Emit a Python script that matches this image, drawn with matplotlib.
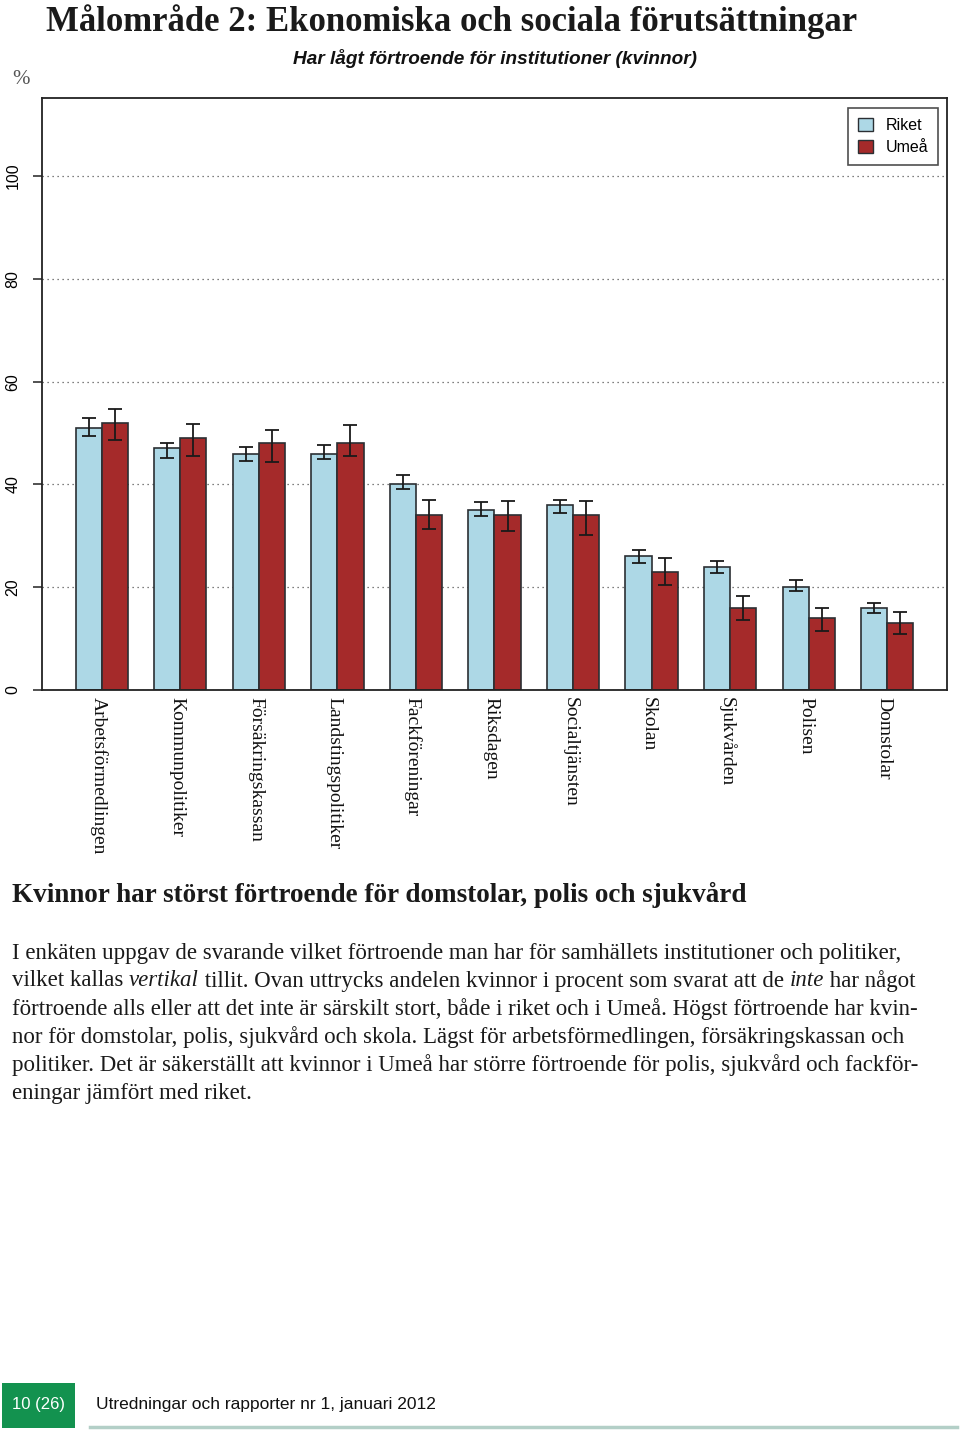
import matplotlib
matplotlib.use("Agg")
import matplotlib.pyplot as plt
from matplotlib.patches import Patch
import numpy as np

W, H = 960, 1432

categories = ["Arbetsförmedlingen", "Kommunpolitiker", "Försäkringskassan",
              "Landstingspolitiker", "Fackföreningar", "Riksdagen",
              "Socialtjänsten", "Skolan", "Sjukvården", "Polisen", "Domstolar"]
series = ["Riket", "Umeå"]

riket = [51, 47, 46, 46, 40, 35, 36, 26, 24, 20, 16]
riket_lo = [49.4, 45.2, 44.6, 44.9, 39.1, 33.9, 34.4, 24.8, 22.8, 19.2, 14.9]
riket_hi = [52.9, 48.1, 47.3, 47.7, 41.8, 36.5, 37.0, 27.3, 25.2, 21.4, 17.0]

umea = [52, 49, 48, 48, 34, 34, 34, 23, 16, 14, 13]
umea_lo = [48.6, 45.6, 44.4, 45.5, 31.3, 31.0, 30.1, 20.4, 13.6, 11.5, 10.9]
umea_hi = [54.7, 51.8, 50.6, 51.6, 37.0, 36.8, 36.8, 25.6, 18.2, 16.0, 15.2]

yticks = [0, 20, 40, 60, 80, 100]

title = "Målområde 2: Ekonomiska och sociala förutsättningar"
subtitle = "Har lågt förtroende för institutioner (kvinnor)"
heading = "Kvinnor har störst förtroende för domstolar, polis och sjukvård"
body = [
    [("I enkäten uppgav de svarande vilket förtroende man har för samhällets institutioner och politiker,", "normal")],
    [("vilket kallas ", "normal"), ("vertikal", "italic"), (" tillit. Ovan uttrycks andelen kvinnor i procent som svarat att de ", "normal"),
     ("inte", "italic"), (" har något", "normal")],
    [("förtroende alls eller att det inte är särskilt stort, både i riket och i Umeå. Högst förtroende har kvin-", "normal")],
    [("nor för domstolar, polis, sjukvård och skola. Lägst för arbetsförmedlingen, försäkringskassan och", "normal")],
    [("politiker. Det är säkerställt att kvinnor i Umeå har större förtroende för polis, sjukvård och fackför-", "normal")],
    [("eningar jämfört med riket.", "normal")],
]
footer_page = "10 (26)"
footer_text = "Utredningar och rapporter nr 1, januari 2012"

col_riket = "#add8e6"
col_umea = "#a52a2a"
edge = "#2b2f33"

fig = plt.figure(figsize=(W / 100, H / 100), dpi=100)

# plot region in pixels
left, right, top, bottom = 42, 947, 98, 690
ax = fig.add_axes([left / W, 1 - bottom / H, (right - left) / W, (bottom - top) / H])

n = len(categories)
x_r = 1 + 3 * np.arange(n)
x_u = x_r + 1

ax.yaxis.grid(True, linestyle=(0, (1, 3)), color="#555555", linewidth=0.9)
ax.set_axisbelow(True)

ax.bar(x_r, riket, width=1, align="edge", color=col_riket, edgecolor=edge, linewidth=1.2, zorder=2)
ax.bar(x_u, umea, width=1, align="edge", color=col_umea, edgecolor=edge, linewidth=1.2, zorder=2)

r = np.array(riket); u = np.array(umea)
ax.errorbar(x_r + 0.5, r, yerr=[r - np.array(riket_lo), np.array(riket_hi) - r], fmt="none",
            ecolor="#1a1a1a", elinewidth=1.3, capsize=4.7, capthick=1.3, zorder=3)
ax.errorbar(x_u + 0.5, u, yerr=[u - np.array(umea_lo), np.array(umea_hi) - u], fmt="none",
            ecolor="#1a1a1a", elinewidth=1.3, capsize=4.7, capthick=1.3, zorder=3)

ax.set_xlim(1 - 1.28, 3 * n + 1.28)
ax.set_ylim(0, 115.2)
ax.set_yticks(yticks)
ax.set_yticklabels([str(t) for t in yticks], rotation=90, va="center",
                   fontsize=11.5, family="Liberation Sans")
ax.tick_params(axis="y", length=6.5, width=1.1, pad=9, color="#222222")
ax.set_xticks(x_u)
ax.set_xticklabels([])
ax.tick_params(axis="x", length=0)
for s in ax.spines.values():
    s.set_linewidth(1.3)
    s.set_color("#222222")

for xc, lab in zip(x_u, categories):
    ax.text(xc - 0.12, -1.4, lab, rotation=-90, ha="center", va="top", fontsize=14,
            family="Liberation Serif", color="#111111", clip_on=False)

handles = [Patch(facecolor=col_riket, edgecolor=edge, label=series[0]),
           Patch(facecolor=col_umea, edgecolor=edge, label=series[1])]
leg = ax.legend(handles=handles, loc="upper right", bbox_to_anchor=(0.9905, 0.9835),
                prop={"family": "Liberation Sans", "size": 11.5}, frameon=True, fancybox=False,
                handlelength=0.9, handleheight=0.9, handletextpad=0.8, borderpad=0.65,
                labelspacing=0.4, borderaxespad=0)
leg.get_frame().set_edgecolor("#222222")
leg.get_frame().set_linewidth(1.2)

# texts
fig.text(46 / W, 1 - 22 / H, title, fontsize=25, fontweight="bold", family="Liberation Serif",
         va="center", ha="left", color="#1a1a1a")
fig.text(495 / W, 1 - 59 / H, subtitle, fontsize=13.7, fontweight="bold", fontstyle="italic",
         family="Liberation Sans", va="center", ha="center", color="#111111")
fig.text(12 / W, 1 - 80 / H, "%", fontsize=15, family="Liberation Serif", va="center",
         ha="left", color="#555555")
fig.text(12 / W, 1 - 895 / H, heading, fontsize=19.5, fontweight="bold", family="Liberation Serif",
         va="center", ha="left", color="#1a1a1a")

renderer = fig.canvas.get_renderer()
y0 = 953
for i, line in enumerate(body):
    xpix = 12
    ypix = y0 + 28 * i
    for txt, style in line:
        t = fig.text(xpix / W, 1 - ypix / H, txt, fontsize=16.5, fontstyle=style,
                     family="Liberation Serif", va="center", ha="left", color="#1a1a1a")
        bb = t.get_window_extent(renderer=renderer)
        xpix += bb.width

# footer
fig.patches.append(plt.Rectangle((2 / W, 1 - 1428 / H), 73 / W, 45 / H, transform=fig.transFigure,
                                 facecolor="#13924f", edgecolor="none"))
fig.text(38.5 / W, 1 - 1404 / H, footer_page, fontsize=12, family="Liberation Sans", color="white",
         va="center", ha="center")
fig.text(96 / W, 1 - 1404 / H, footer_text, fontsize=12.5, family="Liberation Sans", color="#111111",
         va="center", ha="left")
fig.add_artist(plt.Line2D([90 / W, 957 / W], [1 - 1427 / H, 1 - 1427 / H], color="#b3cfc7",
                          linewidth=2.5, transform=fig.transFigure))

fig.savefig("out.png", dpi=100)
